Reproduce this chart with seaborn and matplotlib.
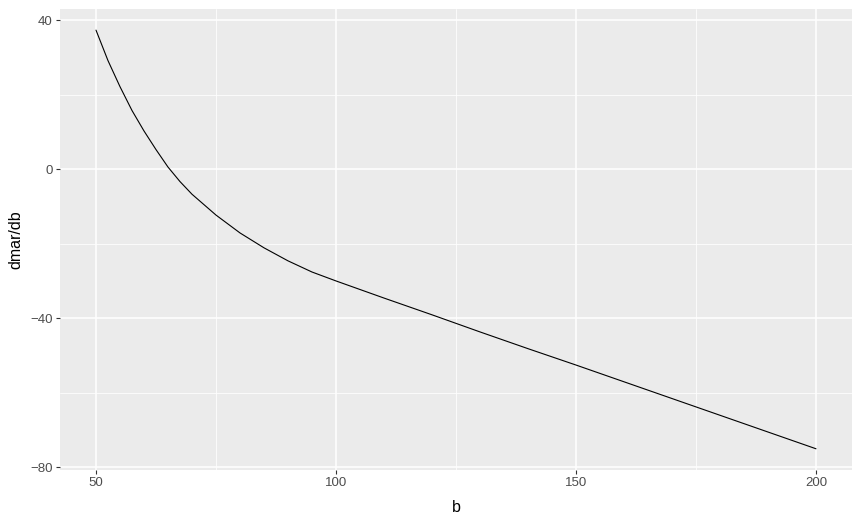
import pandas as pd
import seaborn as sns
import matplotlib.pyplot as plt
from matplotlib.ticker import FixedLocator

# values
b = [50, 52.5, 55, 57.5, 60, 62.5, 65, 67.5, 70, 75, 80, 85, 90, 95, 100,
     110, 120, 130, 140, 150, 160, 170, 180, 190, 200]
dmar_db = [37.4, 29.2, 22.2, 15.8, 10.3, 5.3, 0.6, -3.3, -6.7, -12.3, -17.1,
           -21.1, -24.6, -27.6, -30.0, -34.6, -39.1, -43.7, -48.2, -52.6,
           -57.1, -61.6, -66.1, -70.6, -75.1]
x_ticks = [50, 100, 150, 200]
y_ticks = [-80, -40, 0, 40]

df = pd.DataFrame({"b": b, "dmar/db": dmar_db})

sns.set_theme(style="darkgrid", rc={"axes.facecolor": "#EBEBEB"})
plt.rcParams["font.family"] = ["Liberation Sans", "DejaVu Sans"]

fig = plt.figure(figsize=(8.62, 5.25), dpi=100)
ax = fig.add_axes([60 / 862, (525 - 469.7) / 525, 792 / 862, 460.5 / 525])

sns.lineplot(data=df, x="b", y="dmar/db", color="black", linewidth=0.8, ax=ax)

# ggplot-like 5% expansion
xr = max(b) - min(b)
yr = max(dmar_db) - min(dmar_db)
ax.set_xlim(min(b) - 0.05 * xr, max(b) + 0.05 * xr)
ax.set_ylim(min(dmar_db) - 0.05 * yr, max(dmar_db) + 0.05 * yr)

ax.set_xticks(x_ticks)
ax.set_yticks(y_ticks)
ax.xaxis.set_minor_locator(FixedLocator([75, 125, 175]))
ax.yaxis.set_minor_locator(FixedLocator([-60, -20, 20]))
ax.grid(which="major", color="white", linewidth=1.1)
ax.grid(which="minor", color="white", linewidth=0.55)
ax.tick_params(which="minor", length=0)
ax.tick_params(which="major", bottom=True, left=True, length=2.7, width=0.8,
               color="#333333", labelcolor="#4D4D4D", labelsize=9.5, pad=2.5)
for s in ax.spines.values():
    s.set_visible(False)

ax.set_xlabel("b", fontsize=11.5, color="black", labelpad=8)
ax.set_ylabel("dmar/db", fontsize=11.5, color="black", labelpad=5)

fig.savefig("out.png", dpi=100)
